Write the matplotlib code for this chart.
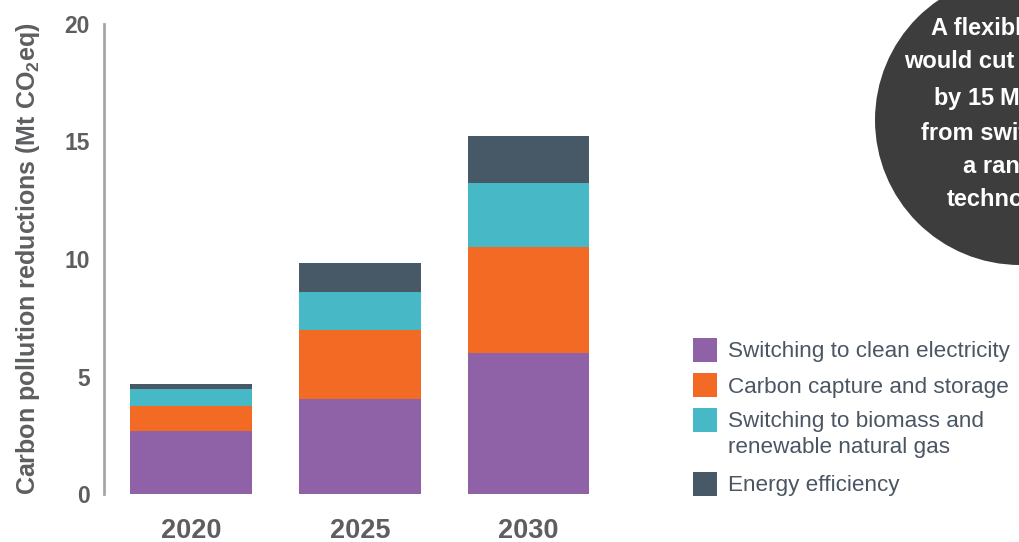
import numpy as np
import matplotlib.pyplot as plt
from matplotlib.patches import Rectangle, Ellipse

plt.rcParams["font.family"] = ["Liberation Sans", "DejaVu Sans"]
plt.rcParams["mathtext.fontset"] = "custom"
plt.rcParams["mathtext.rm"] = "Liberation Sans"
plt.rcParams["mathtext.bf"] = "Liberation Sans:bold"

years = ["2020", "2025", "2030"]
labels = ["Switching to clean electricity",
          "Carbon capture and storage",
          "Switching to biomass and\nrenewable natural gas",
          "Energy efficiency"]
clean_elec = [2.70, 4.03, 6.02]
ccs = [1.03, 2.96, 4.50]
biomass_rng = [0.75, 1.61, 2.72]
efficiency = [0.22, 1.23, 2.00]
colors = ["#8f62a8", "#f26a24", "#47b8c6", "#475866"]

series = [clean_elec, ccs, biomass_rng, efficiency]

W, H = 1019, 542
fig = plt.figure(figsize=(W / 100, H / 100), dpi=100)
ax = fig.add_axes([104 / W, 48 / H, 509 / W, 470 / H])

x = np.arange(len(years))
bottom = np.zeros(len(years))
for vals, c in zip(series, colors):
    ax.bar(x, vals, width=0.72, bottom=bottom, color=c, linewidth=0)
    bottom += np.array(vals)

ax.set_xlim(-0.516, 2.5)
ax.set_ylim(0, 20)
ax.set_yticks([0, 5, 10, 15, 20])
ax.set_xticks(x)
ax.set_xticklabels(years)
for s in ["top", "right", "bottom"]:
    ax.spines[s].set_visible(False)
ax.spines["left"].set_color("#a6a6a6")
ax.spines["left"].set_linewidth(2)
ax.tick_params(axis="y", length=0, pad=10, labelsize=16.5, labelcolor="#5d5e60")
ax.tick_params(axis="x", length=0, pad=17, labelsize=19.5, labelcolor="#5d5e60")
for t in ax.get_xticklabels() + ax.get_yticklabels():
    t.set_fontweight("bold")
ax.set_ylabel("Carbon pollution reductions (Mt CO$_\\mathbf{2}$eq)", fontsize=18,
              fontweight="bold", color="#5d5e60")
ax.yaxis.set_label_coords(-62 / 509, 0.5)

# legend swatches, drawn by hand so the two-line entry lines up with its first line
leg_y = [350, 385, 420, 484]
for lab, c, yy in zip(labels, colors, leg_y):
    fig.add_artist(Rectangle((693 / W, (H - yy - 12) / H), 24 / W, 24 / H,
                             transform=fig.transFigure, color=c, lw=0))
    ty = yy + 14.5 if "\n" in lab else yy + 2
    fig.text(728 / W, (H - ty) / H, lab, fontsize=16.2, color="#4a5663",
             va="center", linespacing=1.35)

# callout bubble
bubble = Ellipse((1020 / W, (H - 120) / H), 290 / W, 290 / H,
                 transform=fig.transFigure, color="#3d3d3d", lw=0)
fig.add_artist(bubble)
fig.text(1020 / W, (H - 114) / H,
         "A flexible policy\nwould cut emissions\nby 15 Mt CO$_\\mathbf{2}$eq\nfrom switching to\na range of\ntechnologies",
         ha="center", va="center", color="white", fontsize=17, fontweight="bold",
         linespacing=1.56)

plt.savefig("out.png", dpi=100)
